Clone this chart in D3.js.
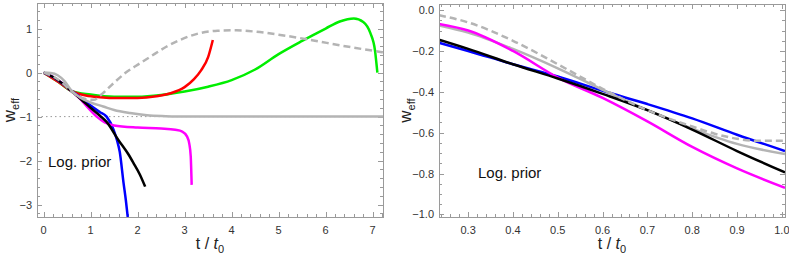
<!DOCTYPE html>
<html>
<head>
<meta charset="utf-8">
<script src="https://cdn.jsdelivr.net/npm/d3@7"></script>
<style>
  body { margin: 0; background: #fff; }
  text { font-family: "Liberation Sans", Arial, sans-serif; }
</style>
</head>
<body>
<div id="chart"></div>
<script>
// values, [t/t0, w_eff]
const leftRed = [[0,0],[0.3,-0.2],[0.6,-0.42],[0.9,-0.52],[1.2,-0.56],[1.6,-0.58],[2.0,-0.58],[2.4,-0.54],[2.7,-0.47],[3.0,-0.33],[3.2,-0.15],[3.35,0.05],[3.5,0.35],[3.6,0.74]];
const leftGreen = [[0,0],[0.3,-0.2],[0.6,-0.42],[1.0,-0.5],[1.5,-0.55],[2.0,-0.55],[2.5,-0.51],[3.0,-0.43],[3.5,-0.32],[4.0,-0.17],[4.5,0.07],[5.0,0.42],[5.5,0.72],[6.0,1.0],[6.3,1.16],[6.6,1.23],[6.8,1.15],[6.95,0.9],[7.05,0.5],[7.1,0.0]];
const leftBlue = [[0,0],[0.2,-0.1],[0.4,-0.25],[0.6,-0.42],[0.8,-0.58],[1.0,-0.75],[1.2,-0.9],[1.34,-1.0],[1.49,-1.3],[1.56,-1.53],[1.62,-1.8],[1.7,-2.5],[1.75,-2.9],[1.79,-3.28]];
const leftMagenta = [[0,0],[0.2,-0.1],[0.4,-0.25],[0.6,-0.43],[0.8,-0.62],[0.92,-0.77],[1.13,-1.0],[1.3,-1.13],[1.5,-1.2],[2.0,-1.25],[2.5,-1.27],[2.8,-1.3],[2.95,-1.34],[3.05,-1.45],[3.1,-1.62],[3.13,-1.9],[3.15,-2.55]];
const leftBlack = [[0,0],[0.2,-0.1],[0.4,-0.25],[0.6,-0.43],[0.8,-0.61],[1.0,-0.8],[1.2,-0.98],[1.34,-1.12],[1.59,-1.53],[1.8,-1.85],[1.91,-2.05],[2.05,-2.32],[2.16,-2.59]];
const leftGray = [[0,0],[0.15,-0.01],[0.3,-0.06],[0.45,-0.2],[0.6,-0.42],[0.8,-0.58],[1.0,-0.68],[1.27,-0.77],[1.5,-0.85],[1.84,-0.92],[2.2,-0.97],[2.6,-0.99],[3.0,-1.0],[7.22,-1.0]];
const leftDashed = [[0,0],[0.3,-0.15],[0.6,-0.43],[0.8,-0.57],[1.06,-0.62],[1.25,-0.48],[1.49,-0.24],[1.75,0.0],[2.05,0.21],[2.27,0.36],[2.6,0.58],[2.9,0.74],[3.3,0.89],[3.7,0.95],[4.1,0.96],[4.5,0.93],[5.0,0.86],[5.74,0.73],[6.3,0.62],[7.22,0.46]];

const rightGray = [[0.235,-0.075],[0.3,-0.11],[0.4,-0.19],[0.5,-0.285],[0.6,-0.39],[0.7,-0.49],[0.8,-0.58],[0.9,-0.655],[1.007,-0.705]];
const rightMagenta = [[0.235,-0.068],[0.3,-0.1],[0.4,-0.2],[0.5,-0.33],[0.6,-0.43],[0.7,-0.545],[0.8,-0.67],[0.9,-0.775],[1.007,-0.87]];
const rightBlue = [[0.235,-0.16],[0.3,-0.2],[0.4,-0.265],[0.5,-0.325],[0.6,-0.395],[0.7,-0.46],[0.8,-0.53],[0.9,-0.61],[1.007,-0.69]];
const rightBlack = [[0.235,-0.145],[0.3,-0.19],[0.4,-0.265],[0.5,-0.335],[0.6,-0.41],[0.7,-0.49],[0.8,-0.585],[0.9,-0.69],[1.007,-0.795]];
const rightDashed = [[0.235,-0.025],[0.3,-0.06],[0.4,-0.15],[0.5,-0.265],[0.6,-0.385],[0.7,-0.49],[0.8,-0.57],[0.85,-0.605],[0.9,-0.63],[0.95,-0.64],[1.007,-0.64]];

const leftXTicks = [0,1,2,3,4,5,6,7];
const leftYTicks = [-3,-2,-1,0,1];
const rightXTicks = [0.3,0.4,0.5,0.6,0.7,0.8,0.9,1.0];
const rightYTicks = [-1.0,-0.8,-0.6,-0.4,-0.2,0.0];

const W = 789, H = 259;
const svg = d3.select("#chart").append("svg").attr("width", W).attr("height", H);

const frameColor = "#9a9a9a";
const lightGray = "#b4b4b4";

function panel(id, box, xDom, yDom, xMajor, yMajor, xMinorStep, yMinorStep, xFmt, yFmt, series, yLabelOffset, dotted) {
    const x = d3.scaleLinear().domain(xDom).range([box.left, box.right]);
    const y = d3.scaleLinear().domain(yDom).range([box.bottom, box.top]);
    const g = svg.append("g");

    g.append("clipPath").attr("id", id)
        .append("rect")
        .attr("x", box.left).attr("y", box.top)
        .attr("width", box.right - box.left).attr("height", box.bottom - box.top);

    // minor ticks
    const xMinor = d3.range(Math.ceil(xDom[0] / xMinorStep), Math.floor(xDom[1] / xMinorStep) + 1).map(k => +(k * xMinorStep).toFixed(4));
    const yMinor = d3.range(Math.ceil(yDom[0] / yMinorStep), Math.floor(yDom[1] / yMinorStep) + 1).map(k => +(k * yMinorStep).toFixed(4));
    const isMajor = (v, arr) => arr.some(m => Math.abs(m - v) < 1e-6);

    const ticks = g.append("g").attr("stroke", frameColor).attr("stroke-width", 1);
    xMinor.forEach(v => {
        const len = isMajor(v, xMajor) ? 5 : 3;
        const px = Math.round(x(v)) + 0.5;
        ticks.append("line").attr("x1", px).attr("x2", px).attr("y1", box.bottom).attr("y2", box.bottom - len);
        ticks.append("line").attr("x1", px).attr("x2", px).attr("y1", box.top).attr("y2", box.top + len);
    });
    yMinor.forEach(v => {
        const len = isMajor(v, yMajor) ? 5 : 3;
        const py = Math.round(y(v)) + 0.5;
        ticks.append("line").attr("y1", py).attr("y2", py).attr("x1", box.left).attr("x2", box.left + len);
        ticks.append("line").attr("y1", py).attr("y2", py).attr("x1", box.right).attr("x2", box.right - len);
    });

    // tick labels
    g.append("g").selectAll("text").data(xMajor).enter().append("text")
        .attr("x", d => x(d)).attr("y", box.bottom + 17)
        .attr("text-anchor", "middle").attr("font-size", 11).attr("fill", "#333")
        .text(xFmt);
    g.append("g").selectAll("text").data(yMajor).enter().append("text")
        .attr("x", box.left - 5).attr("y", d => y(d) + 4)
        .attr("text-anchor", "end").attr("font-size", 11).attr("fill", "#333")
        .text(d => yFmt(d).replace("-", "\u2212"));

    if (dotted !== undefined) {
        g.append("line")
            .attr("x1", box.left).attr("x2", box.right)
            .attr("y1", y(dotted)).attr("y2", y(dotted))
            .attr("stroke", "#999").attr("stroke-width", 1).attr("stroke-dasharray", "1.5,3");
    }

    const line = d3.line().x(d => x(d[0])).y(d => y(d[1])).curve(d3.curveMonotoneX);
    const curves = g.append("g").attr("clip-path", "url(#" + id + ")");
    series.forEach(s => {
        curves.append("path")
            .attr("d", line(s.data))
            .attr("fill", "none")
            .attr("stroke", s.color)
            .attr("stroke-width", 2.5)
            .attr("stroke-dasharray", s.dash || null);
    });

    // frame
    g.append("rect")
        .attr("x", box.left + 0.5).attr("y", box.top + 0.5)
        .attr("width", box.right - box.left).attr("height", box.bottom - box.top)
        .attr("fill", "none").attr("stroke", frameColor).attr("stroke-width", 1);

    // axis labels
    const xl = g.append("text")
        .attr("x", (box.left + box.right) / 2).attr("y", 249)
        .attr("text-anchor", "middle").attr("font-size", 16).attr("fill", "#222");
    xl.append("tspan").text("t / ");
    xl.append("tspan").attr("font-style", "italic").text("t");
    xl.append("tspan").attr("font-size", 11).attr("dy", 4).text("0");

    const yl = g.append("text")
        .attr("transform", "translate(" + (box.left - yLabelOffset) + "," + ((box.top + box.bottom) / 2) + ") rotate(-90)")
        .attr("text-anchor", "middle").attr("font-size", 17).attr("fill", "#222");
    yl.append("tspan").text("w");
    yl.append("tspan").attr("font-size", 11).attr("dy", 4).text("eff");

    return {x, y, g};
}

const left = panel("clipL", {left: 37, right: 383, top: 3, bottom: 217},
    [-0.14, 7.22], [-3.28, 1.58], leftXTicks, leftYTicks, 0.2, 0.2,
    d => d3.format("d")(d), d => d3.format("d")(d),
    [
        {data: leftGreen, color: "#00ee00"},
        {data: leftRed, color: "#ff0000"},
        {data: leftBlue, color: "#0000ff"},
        {data: leftMagenta, color: "#ff00ff"},
        {data: leftBlack, color: "#000000"},
        {data: leftGray, color: lightGray},
        {data: leftDashed, color: lightGray, dash: "7,4"}
    ], 22, -1);
left.g.append("text").attr("x", 48).attr("y", 167).attr("font-size", 15).attr("fill", "#111").text("Log. prior");

const right = panel("clipR", {left: 439, right: 785, top: 4, bottom: 217},
    [0.235, 1.007], [-1.013, 0.03], rightXTicks, rightYTicks, 0.02, 0.05,
    d => d3.format(".1f")(d), d => d3.format(".1f")(d),
    [
        {data: rightBlue, color: "#0000ff"},
        {data: rightGray, color: lightGray},
        {data: rightMagenta, color: "#ff00ff"},
        {data: rightBlack, color: "#000000"},
        {data: rightDashed, color: lightGray, dash: "7,4"}
    ], 28);
right.g.append("text").attr("x", 478).attr("y", 178).attr("font-size", 15).attr("fill", "#111").text("Log. prior");
</script>
</body>
</html>
